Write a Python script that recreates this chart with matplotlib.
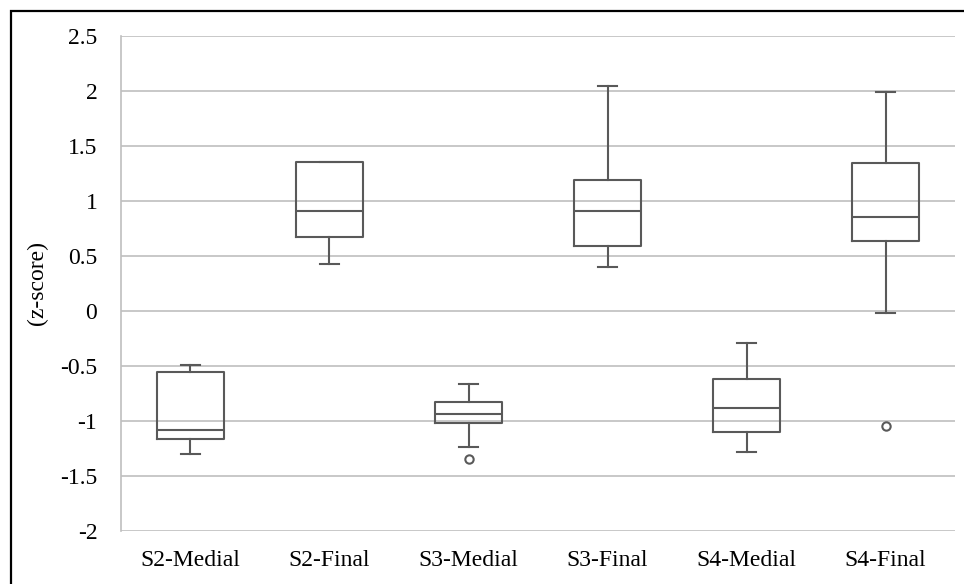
import matplotlib
matplotlib.use("Agg")
import matplotlib.pyplot as plt
from matplotlib.patches import Rectangle

plt.rcParams['font.family'] = ['Liberation Serif', 'DejaVu Serif']

groups = ["S2-Medial", "S2-Final", "S3-Medial", "S3-Final", "S4-Medial", "S4-Final"]
whisker_low = [-1.297, 0.430, -1.236, 0.397, -1.279, -0.018]
quartile1 = [-1.164, 0.673, -1.021, 0.594, -1.103, 0.633]
medians = [-1.082, 0.909, -0.933, 0.906, -0.882, 0.858]
quartile3 = [-0.557, 1.352, -0.827, 1.191, -0.618, 1.342]
whisker_high = [-0.490, 1.357, -0.661, 2.045, -0.288, 1.991]
outliers = [[], [], [-1.345], [], [], [-1.042]]
y_ticks = [2.5, 2, 1.5, 1, 0.5, 0, -0.5, -1, -1.5, -2]
y_tick_labels = ["2.5", "2", "1.5", "1", "0.5", "0", "-0.5", "-1", "-1.5", "-2"]

stats = []
for i, name in enumerate(groups):
    stats.append(dict(label=name, whislo=whisker_low[i], q1=quartile1[i],
                      med=medians[i], q3=quartile3[i], whishi=whisker_high[i],
                      fliers=outliers[i]))

fig = plt.figure(figsize=(9.64, 5.84), dpi=100)
ax = fig.add_axes([0.1255, 0.0908, 0.8652, 0.8476])

line_color = "#595959"
grid_color = "#bfbfbf"
lw = 1.5
ax.bxp(stats, positions=range(1, len(groups) + 1), widths=0.48, capwidths=0.14,
       boxprops=dict(color=line_color, linewidth=lw),
       medianprops=dict(color=line_color, linewidth=lw),
       whiskerprops=dict(color=line_color, linewidth=lw),
       capprops=dict(color=line_color, linewidth=lw),
       flierprops=dict(marker="o", markerfacecolor="none", markeredgecolor=line_color,
                       markersize=6, markeredgewidth=1.5))

ax.set_xlim(0.5, len(groups) + 0.5)
ax.set_ylim(-2, 2.5)
ax.set_yticks(y_ticks)
ax.set_yticklabels(y_tick_labels)
ax.yaxis.grid(True, color=grid_color, linewidth=1.2, zorder=0)
ax.set_axisbelow(True)
ax.tick_params(axis="both", length=0, labelsize=17, colors="black")
ax.tick_params(axis="y", pad=17)
ax.tick_params(axis="x", pad=14)

for side in ("top", "right", "bottom"):
    ax.spines[side].set_visible(False)
ax.spines["left"].set_color(grid_color)
ax.spines["left"].set_linewidth(1.2)

ax.set_ylabel("(z-score)", fontsize=17)
ax.yaxis.set_label_coords(-0.088, 0.5)

# outer frame around the chart
fig.patches.append(Rectangle((11 / 964, -0.05), 1.2, 1.05 - 11 / 584,
                             transform=fig.transFigure, fill=False,
                             edgecolor="black", linewidth=1.6))

fig.savefig("out.png", dpi=100)
